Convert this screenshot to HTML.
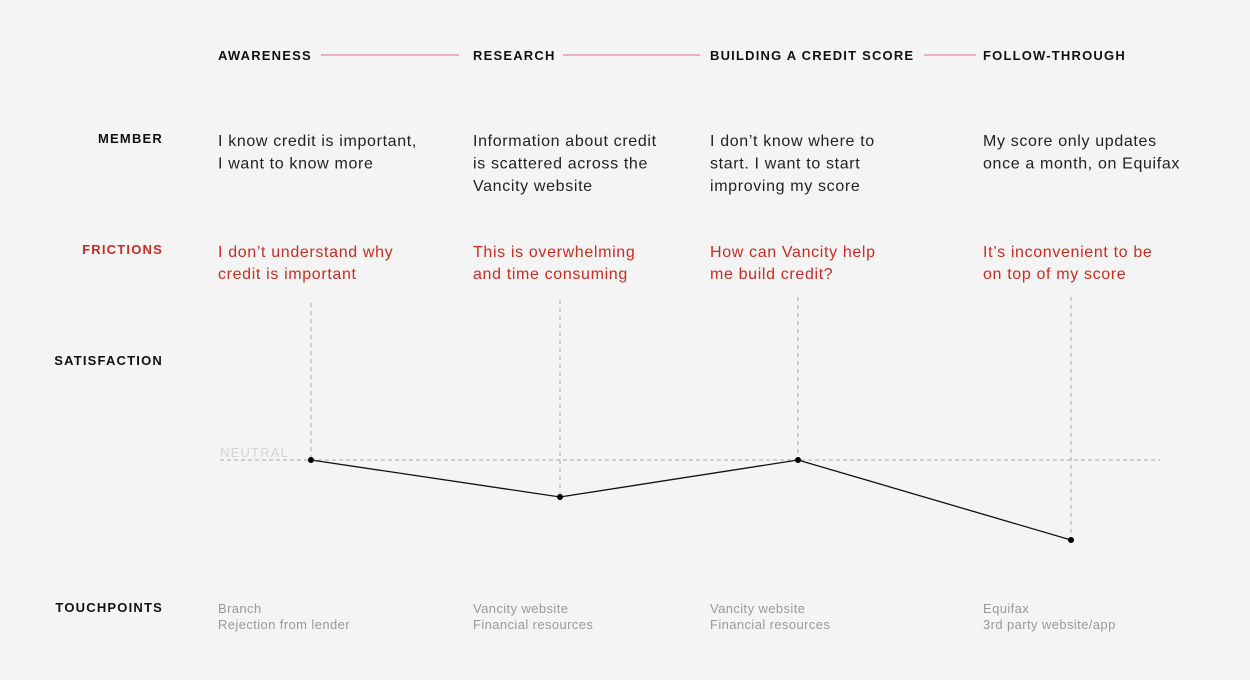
<!DOCTYPE html>
<html><head><meta charset="utf-8"><style>
html,body{margin:0;padding:0;background:#f4f4f4;}
svg{display:block;font-family:"Liberation Sans",sans-serif;}
.h{font-size:13px;font-weight:bold;letter-spacing:1.2px;fill:#111;}
.b{font-size:16px;fill:#222;letter-spacing:0.65px;}
.r{font-size:16px;fill:#cc2b1f;letter-spacing:0.65px;}
.t{font-size:13px;fill:#999;letter-spacing:0.4px;}
</style></head><body>
<svg width="1250" height="680" viewBox="0 0 1250 680">
<rect width="1250" height="680" fill="#f4f4f4"/>
<g class="h">
<text x="218" y="60">AWARENESS</text>
<text x="473" y="60">RESEARCH</text>
<text x="710" y="60">BUILDING A CREDIT SCORE</text>
<text x="983" y="60">FOLLOW-THROUGH</text>
<text x="163" y="143" text-anchor="end">MEMBER</text>
<text x="163" y="254" text-anchor="end" fill="#cc2b1f">FRICTIONS</text>
<text x="163" y="365" text-anchor="end">SATISFACTION</text>
<text x="163" y="612" text-anchor="end">TOUCHPOINTS</text>
</g>
<g stroke="#e07070" stroke-width="1">
<line x1="321" y1="55" x2="459" y2="55"/>
<line x1="563" y1="55" x2="700" y2="55"/>
<line x1="924" y1="55" x2="976" y2="55"/>
</g>
<g class="b">
<text x="218" y="146">I know credit is important,</text>
<text x="218" y="168.5">I want to know more</text>
<text x="473" y="146">Information about credit</text>
<text x="473" y="168.5">is scattered across the</text>
<text x="473" y="191">Vancity website</text>
<text x="710" y="146">I don’t know where to</text>
<text x="710" y="168.5">start. I want to start</text>
<text x="710" y="191">improving my score</text>
<text x="983" y="146">My score only updates</text>
<text x="983" y="168.5">once a month, on Equifax</text>
</g>
<g class="r">
<text x="218" y="257">I don’t understand why</text>
<text x="218" y="279">credit is important</text>
<text x="473" y="257">This is overwhelming</text>
<text x="473" y="279">and time consuming</text>
<text x="710" y="257">How can Vancity help</text>
<text x="710" y="279">me build credit?</text>
<text x="983" y="257">It’s inconvenient to be</text>
<text x="983" y="279">on top of my score</text>
</g>
<g stroke="#ccc" stroke-width="2" stroke-dasharray="4,4">
<line x1="311" y1="303" x2="311" y2="460"/>
<line x1="560" y1="300" x2="560" y2="497"/>
<line x1="798" y1="297" x2="798" y2="460"/>
</g>
<line x1="1071" y1="297" x2="1071" y2="540" stroke="#aaa" stroke-width="1" stroke-dasharray="4,4"/>
<text x="220" y="457" font-size="13" fill="#d4d4d4" letter-spacing="1.2">NEUTRAL</text>
<line x1="220" y1="460" x2="1160" y2="460" stroke="#aaa" stroke-width="1" stroke-dasharray="4,3"/>
<polyline points="311,460 560,497 798,460 1071,540" fill="none" stroke="#111" stroke-width="1.3"/>
<g fill="#000">
<circle cx="311" cy="460" r="3"/><circle cx="560" cy="497" r="3"/>
<circle cx="798" cy="460" r="3"/><circle cx="1071" cy="540" r="3"/>
</g>
<g class="t">
<text x="218" y="613">Branch</text><text x="218" y="629">Rejection from lender</text>
<text x="473" y="613">Vancity website</text><text x="473" y="629">Financial resources</text>
<text x="710" y="613">Vancity website</text><text x="710" y="629">Financial resources</text>
<text x="983" y="613">Equifax</text><text x="983" y="629">3rd party website/app</text>
</g>
</svg>
</body></html>
